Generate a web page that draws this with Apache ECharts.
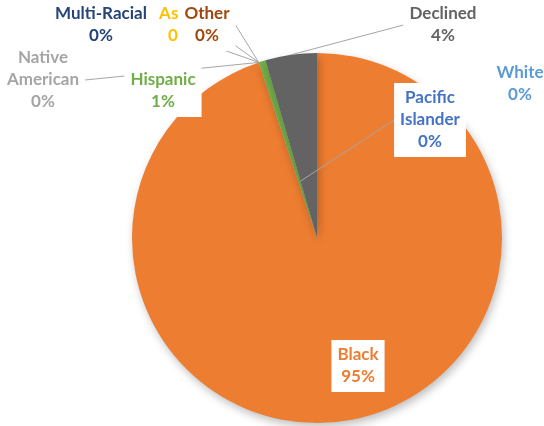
<!DOCTYPE html>
<html>
<head>
<meta charset="utf-8">
<script src="https://cdn.jsdelivr.net/npm/echarts@6/dist/echarts.min.js"></script>
<style>
  html, body { margin: 0; padding: 0; background: #fff; }
  #chart { width: 544px; height: 426px; }
</style>
</head>
<body>
<div id="chart"></div>
<script>
// slices in drawing order (clockwise from 12 o'clock)
const categories = ['Black', 'Native American', 'Multi-Racial', 'Asian', 'Other', 'Hispanic', 'Pacific Islander', 'Declined', 'White']
const labelNames = ['Black', 'Native\nAmerican', 'Multi-Racial', 'Asian', 'Other', 'Hispanic', 'Pacific\nIslander', 'Declined', 'White']
const values = [94.9, 0, 0, 0, 0, 0.6, 0, 4.5, 0]
const colors = ['#ED7D31', '#A5A5A5', '#264478', '#FFC000', '#9E480E', '#70AD47', '#4472C4', '#636363', '#5B9BD5']

const pieCenter = [317, 238]
const pieRadius = 185

// label centres (layout only)
const labelSpots = {
  'Black': [358, 366],
  'Native American': [43, 80],
  'Multi-Racial': [101, 25],
  'Asian': [180, 25],
  'Other': [207, 25],
  'Hispanic': [163, 91],
  'Pacific Islander': [430, 120],
  'Declined': [443, 25],
  'White': [520, 84]
}
const noLine = ['Black', 'Hispanic', 'White']
// where along the radius the leader line lands (1 = rim)
const lineReach = { 'Pacific Islander': 0.32 }

function pieData (withColor) {
  return categories.map(function (c, i) {
    const item = {
      name: c,
      value: values[i],
      itemStyle: { color: withColor ? colors[i] : 'rgba(0,0,0,0)' },
      label: { color: colors[i] }
    }
    if (noLine.indexOf(c) >= 0) item.labelLine = { show: false }
    return item
  })
}

let myChart = echarts.init(document.getElementById('chart'))
let option = {
  backgroundColor: '#fff',
  animation: false,
  series: [{
    // the slices
    type: 'pie',
    z: 2,
    center: pieCenter,
    radius: pieRadius,
    startAngle: 90,
    clockwise: true,
    silent: true,
    itemStyle: {
      shadowBlur: 9,
      shadowColor: 'rgba(0,0,0,0.25)',
      shadowOffsetX: 2,
      shadowOffsetY: 4
    },
    label: { show: false },
    labelLine: { show: false },
    data: pieData(true)
  }, {
    // labels + leader lines on top of the slices
    type: 'pie',
    z: 3,
    center: pieCenter,
    radius: pieRadius,
    startAngle: 90,
    clockwise: true,
    silent: true,
    avoidLabelOverlap: false,
    percentPrecision: 0,
    label: {
      show: true,
      position: 'outside',
      formatter: function (p) {
        return labelNames[p.dataIndex] + '\n' + p.percent + '%'
      },
      fontFamily: 'Lato',
      fontWeight: 'bold',
      fontSize: 17,
      lineHeight: 22,
      align: 'center',
      backgroundColor: '#fff',
      padding: [4, 6]
    },
    labelLine: {
      show: true,
      length: 10,
      length2: 10,
      lineStyle: { color: '#a6a6a6', width: 1 }
    },
    labelLayout: function (params) {
      const name = categories[params.dataIndex]
      const p = labelSpots[name]
      const r = params.labelRect
      const x0 = p[0] - r.width / 2
      const y0 = p[1] - r.height / 2
      const res = { x: p[0], y: p[1], align: 'center', verticalAlign: 'middle' }
      if (noLine.indexOf(name) < 0 && params.labelLinePoints) {
        let a = params.labelLinePoints[0]
        const f = lineReach[name] || 1
        a = [pieCenter[0] + (a[0] - pieCenter[0]) * f, pieCenter[1] + (a[1] - pieCenter[1]) * f]
        let e
        if (a[0] > x0 + r.width) e = [x0 + r.width, p[1]]
        else if (a[0] < x0) e = [x0, p[1]]
        else e = [a[0], a[1] > p[1] ? y0 + r.height : y0]
        res.labelLinePoints = [a, e, e]
      }
      return res
    },
    data: pieData(false)
  }]
}
myChart.setOption(option, true)
window.addEventListener('resize', function () {
  myChart.resize()
})
</script>
</body>
</html>
